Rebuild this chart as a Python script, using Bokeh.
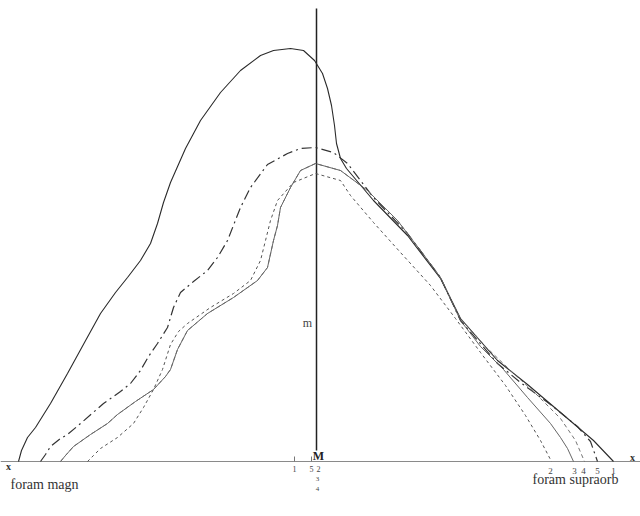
from bokeh.plotting import figure
from bokeh.models import Range1d, ColumnDataSource
from bokeh.core.properties import value
from bokeh.embed import file_html
from bokeh.resources import INLINE

# Horizontal position along the base line x–x, height above it (drawing units)
c1_x = [18, 21, 27, 35, 50, 67, 84, 100, 115, 127, 140, 150, 157, 163, 170, 185, 200, 220, 240, 260, 273, 290, 303, 314, 322, 327, 331, 334, 336, 340, 346, 373, 407, 440, 460, 497, 527, 560, 593, 613]
c1_h = [0, 11, 24, 34, 58, 88, 119, 148, 169, 184, 201, 218, 238, 259, 279, 313, 341, 369, 391, 406, 411, 413, 411, 401, 388, 373, 356, 336, 318, 303, 293, 261, 226, 183, 143, 101, 77, 49, 21, 0]

c5_x = [40, 45, 50, 60, 67, 80, 103, 120, 130, 140, 148, 157, 167, 173, 180, 193, 207, 217, 227, 240, 250, 267, 287, 300, 315, 333, 347, 373, 407, 440, 460, 497, 520, 550, 577, 590, 597]
c5_h = [0, 7, 15, 23, 27, 38, 58, 70, 78, 91, 105, 118, 134, 154, 169, 180, 191, 204, 221, 254, 274, 297, 308, 313, 314, 309, 298, 264, 228, 184, 141, 98, 79, 57, 35, 20, 0]

c3_x = [60, 65, 73, 90, 107, 117, 135, 153, 165, 170, 177, 187, 207, 233, 257, 267, 273, 277, 280, 290, 300, 315, 340, 367, 397, 420, 440, 460, 480, 503, 527, 550, 560, 567, 573]
c3_h = [0, 6, 15, 27, 38, 47, 60, 72, 85, 92, 112, 131, 148, 164, 181, 194, 221, 236, 254, 274, 291, 298, 291, 271, 241, 211, 184, 141, 115, 92, 64, 38, 24, 13, 0]

c4_x = [60, 65, 73, 90, 107, 117, 135, 153, 165, 170, 177, 187, 207, 233, 257, 267, 273, 277, 280, 290, 300, 315, 340, 367, 397, 420, 440, 460, 485, 510, 535, 560, 575, 584]
c4_h = [0, 6, 15, 27, 38, 47, 60, 72, 85, 92, 112, 131, 148, 164, 181, 194, 221, 236, 254, 274, 291, 298, 291, 271, 241, 211, 184, 143, 115, 91, 68, 43, 21, 0]

c2_x = [87, 93, 100, 117, 133, 143, 153, 162, 170, 178, 187, 210, 233, 250, 260, 265, 270, 277, 293, 315, 340, 350, 373, 400, 430, 455, 480, 505, 525, 540, 551]
c2_h = [0, 6, 13, 24, 38, 54, 72, 92, 117, 130, 138, 154, 168, 181, 201, 221, 241, 261, 279, 288, 281, 266, 239, 209, 176, 143, 109, 76, 46, 21, 0]

axis_m_x = 316
axis_m_top = 453
axis_m_bottom = 11
base_start = 0
base_end = 640

end_labels = ["2", "3", "4", "5", "1"]
end_x = [550, 574, 583, 597, 613]
top_labels = ["1", "5", "2"]
top_x = [294, 311, 318]
top_low_labels = ["3", "4"]
top_low_h = [-17, -27]

p = figure(width=640, height=516, output_backend="svg", toolbar_location=None,
           x_range=Range1d(0, 640), y_range=Range1d(-55, 461), title=None,
           min_border=0, background_fill_color="white", border_fill_color="white")
p.axis.visible = False
p.xgrid.visible = False
p.ygrid.visible = False
p.outline_line_color = None

# base line x–x
p.line([base_start, base_end], [0, 0], line_color="#8a8a8a", line_width=1.2)
# vertical M–m
p.line([axis_m_x, axis_m_x], [axis_m_bottom, axis_m_top], line_color="#222222", line_width=1.5)
# small ticks at the tops' projections
p.segment(x0=top_x[:2], y0=[0, 0], x1=top_x[:2], y1=[5, 5], line_color="#777777", line_width=1)

p.line(c1_x, c1_h, line_color="#2a2a2a", line_width=1.1)
p.line(c5_x, c5_h, line_color="#333333", line_width=1.2, line_dash="10 4 2 4")
p.line(c3_x, c3_h, line_color="#555555", line_width=0.9)
p.line(c4_x, c4_h, line_color="#666666", line_width=0.9, line_dash="4 3")
p.line(c2_x, c2_h, line_color="#555555", line_width=1.0, line_dash="3 3")

serif = value("Liberation Serif")
src_end = ColumnDataSource(dict(x=end_x, y=[-9] * len(end_x), t=end_labels))
p.text(x="x", y="y", text="t", source=src_end, text_font=serif, text_font_size="9px",
       text_align="center", text_baseline="middle", text_color="#444444")
src_top = ColumnDataSource(dict(x=top_x, y=[-7] * len(top_x), t=top_labels))
p.text(x="x", y="y", text="t", source=src_top, text_font=serif, text_font_size="8px",
       text_align="center", text_baseline="middle", text_color="#444444")
src_low = ColumnDataSource(dict(x=[317, 317], y=top_low_h, t=top_low_labels))
p.text(x="x", y="y", text="t", source=src_low, text_font=serif, text_font_size="7px",
       text_align="center", text_baseline="middle", text_color="#444444")

p.text(x=[318], y=[6], text=["M"], text_font=serif, text_font_size="12px", text_font_style="bold",
       text_align="center", text_baseline="middle", text_color="#222222")
p.text(x=[307], y=[139], text=["m"], text_font=serif, text_font_size="12px",
       text_align="center", text_baseline="middle", text_color="#444444")
p.text(x=[8], y=[-5], text=["x"], text_font=serif, text_font_size="10px", text_font_style="bold",
       text_align="center", text_baseline="middle", text_color="#333333")
p.text(x=[632], y=[4], text=["x"], text_font=serif, text_font_size="10px", text_font_style="bold",
       text_align="center", text_baseline="middle", text_color="#333333")
p.text(x=[44], y=[-23], text=["foram magn"], text_font=serif, text_font_size="14px",
       text_align="center", text_baseline="middle", text_color="#333333")
p.text(x=[575], y=[-18], text=["foram supraorb"], text_font=serif, text_font_size="14px",
       text_align="center", text_baseline="middle", text_color="#333333")

open("out.html", "w").write(file_html(p, INLINE))
